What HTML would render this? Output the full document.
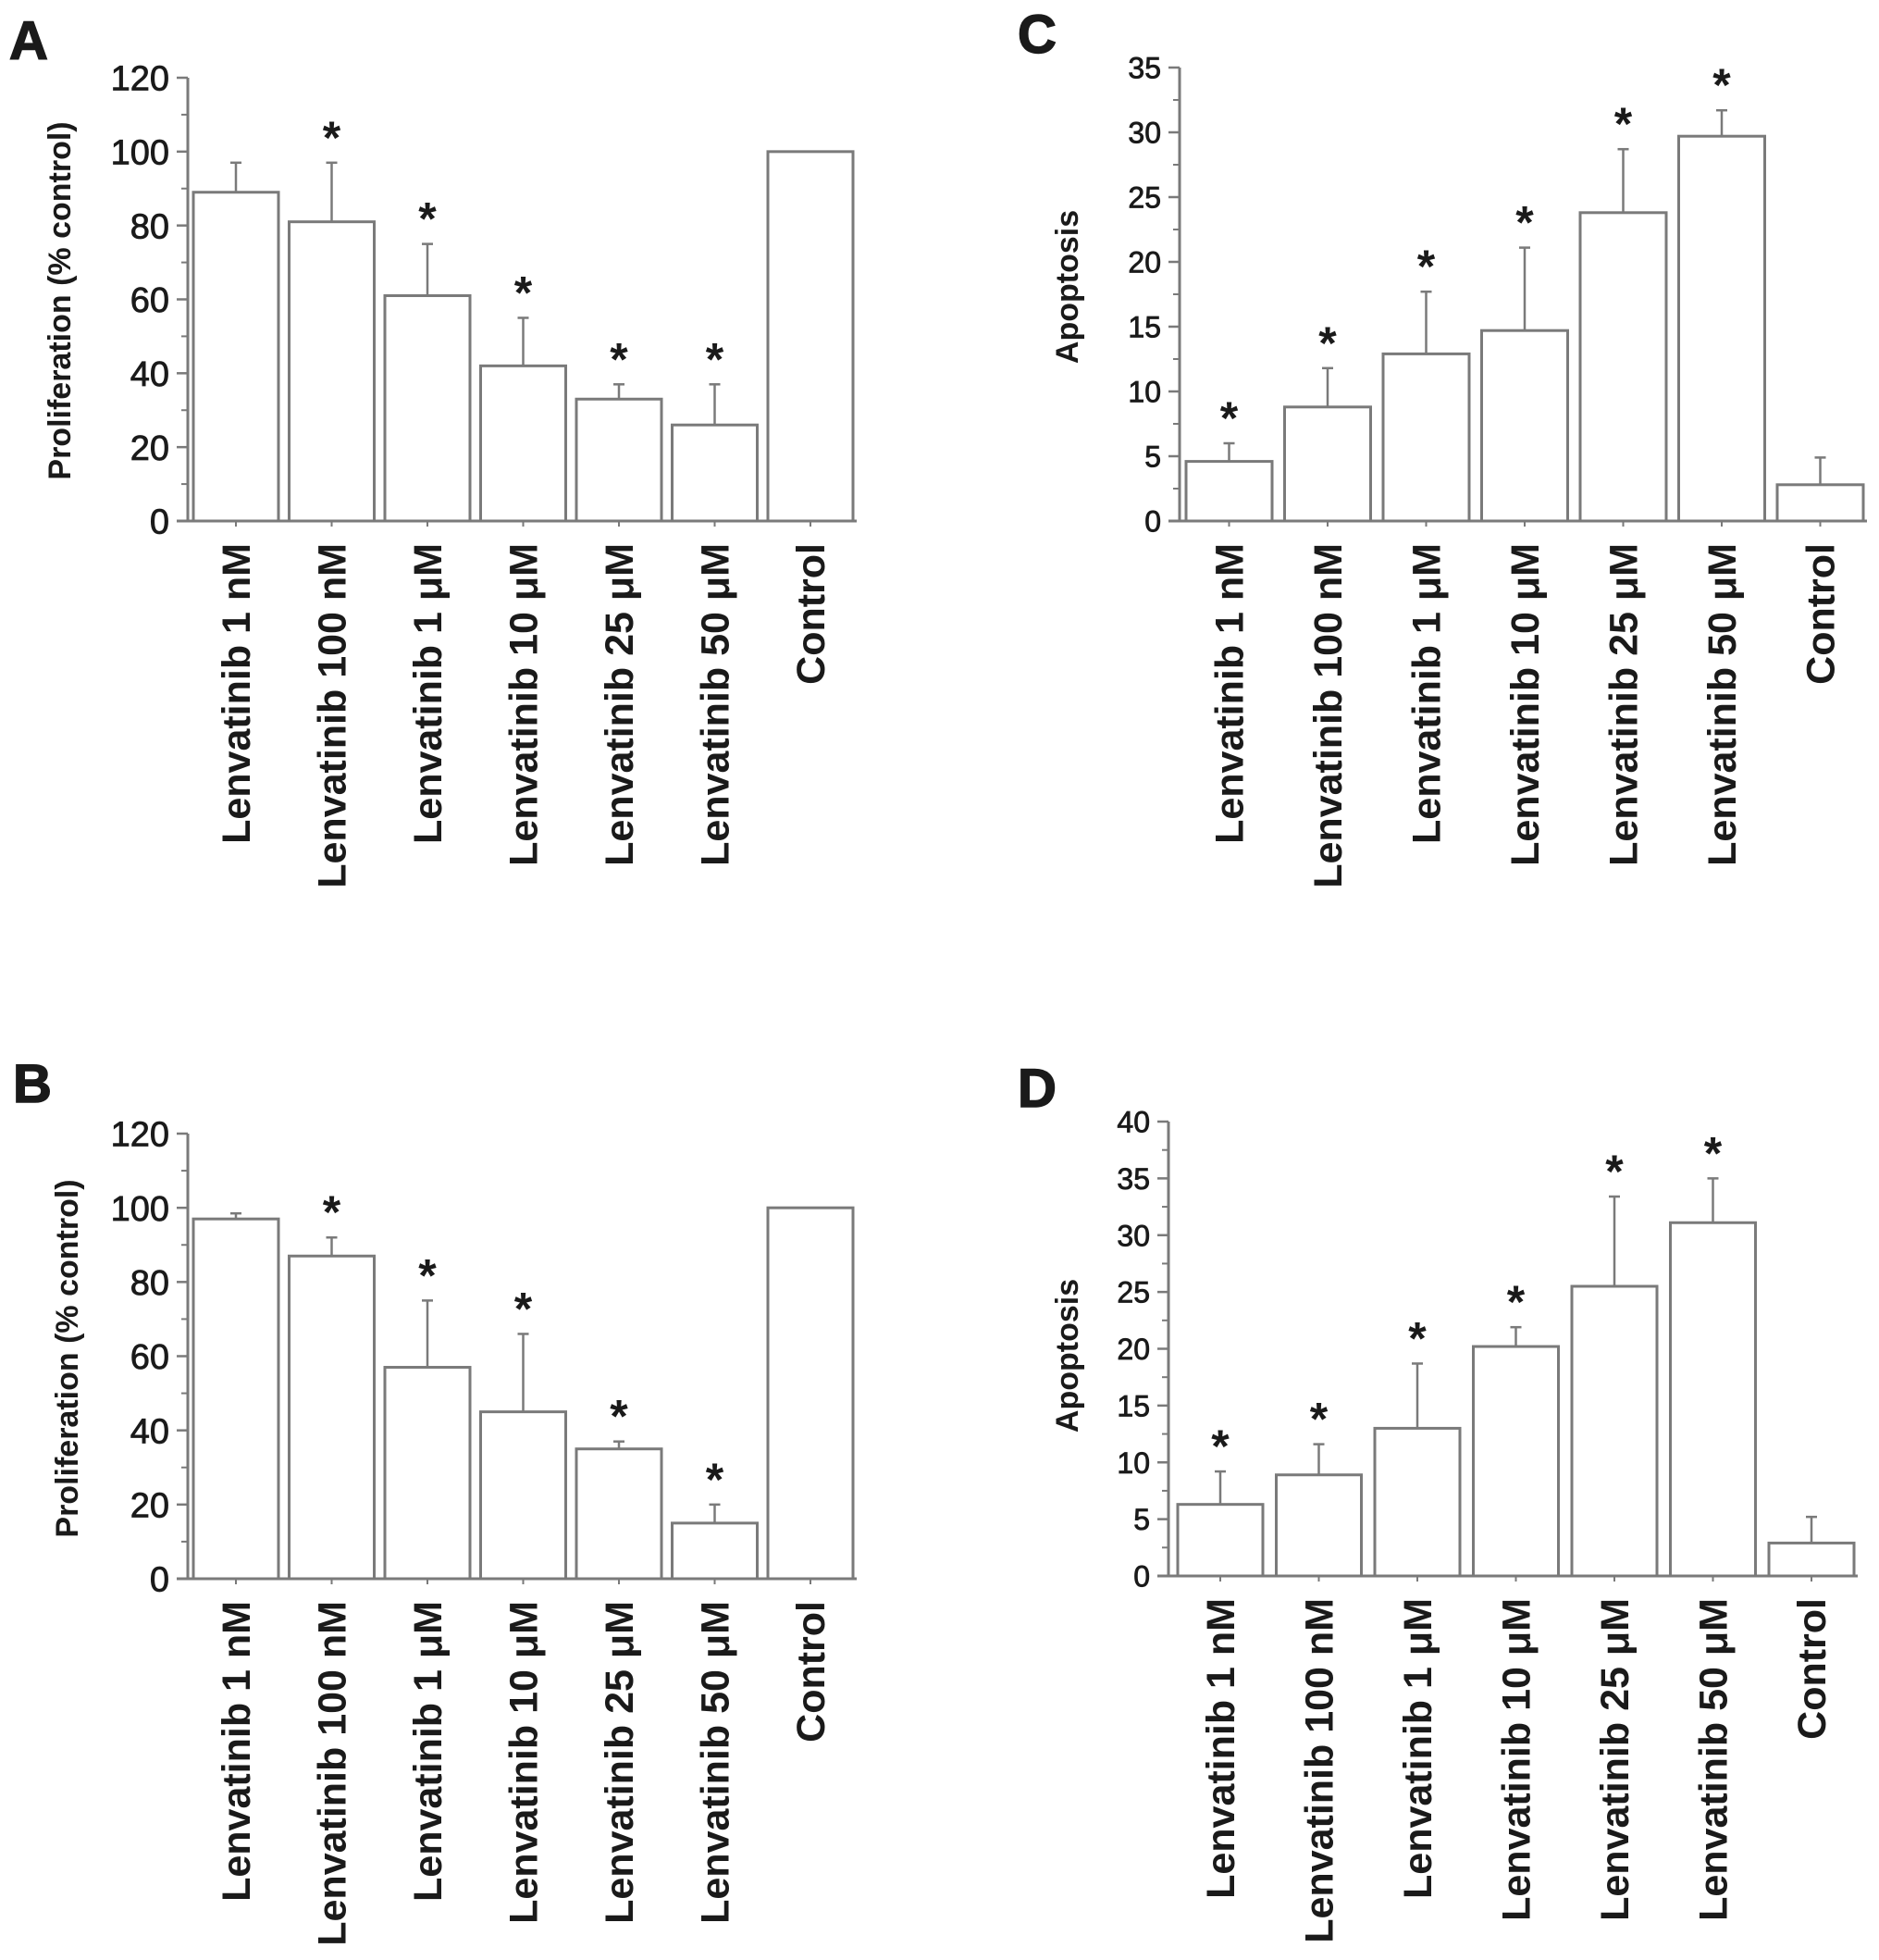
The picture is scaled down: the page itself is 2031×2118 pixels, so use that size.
<!DOCTYPE html>
<html><head><meta charset="utf-8"><style>
html,body{margin:0;padding:0;background:#fff;}
svg{display:block;}
text{font-family:"Liberation Sans",Arial,sans-serif;fill:#1a1a1a;}
</style></head><body>
<svg id="fig" width="2031" height="2118" viewBox="0 0 2031 2118" xmlns="http://www.w3.org/2000/svg"></svg>
<script>
const categories = ["Lenvatinib 1 nM","Lenvatinib 100 nM","Lenvatinib 1 μM","Lenvatinib 10 μM","Lenvatinib 25 μM","Lenvatinib 50 μM","Control"];
const valuesA = [89, 81, 61, 42, 33, 26, 100];
const errTopA = [97, 97, 75, 55, 37, 37, null];
const starsA = [false, true, true, true, true, true, false];
const ticksA = [0, 20, 40, 60, 80, 100, 120];
const valuesB = [97, 87, 57, 45, 35, 15, 100];
const errTopB = [98.5, 92, 75, 66, 37, 20, null];
const starsB = [false, true, true, true, true, true, false];
const ticksB = [0, 20, 40, 60, 80, 100, 120];
const valuesC = [4.6, 8.8, 12.9, 14.7, 23.8, 29.7, 2.8];
const errTopC = [6, 11.8, 17.7, 21.1, 28.7, 31.7, 4.9];
const starsC = [true, true, true, true, true, true, false];
const ticksC = [0, 5, 10, 15, 20, 25, 30, 35];
const valuesD = [6.3, 8.9, 13, 20.2, 25.5, 31.1, 2.9];
const errTopD = [9.2, 11.6, 18.7, 21.9, 33.4, 35, 5.2];
const starsD = [true, true, true, true, true, true, false];
const ticksD = [0, 5, 10, 15, 20, 25, 30, 35, 40];

const NS = "http://www.w3.org/2000/svg";
const svg = document.getElementById("fig");
function mk(tag, attrs, parent) {
  const e = document.createElementNS(NS, tag);
  for (const k in attrs) e.setAttribute(k, attrs[k]);
  (parent || svg).appendChild(e);
  return e;
}
const GRAY = "#7a7a7a";

function panel(cfg) {
  const g = mk("g", {});
  
  
  const maxV = cfg.ticks[cfg.ticks.length - 1];
  const y = v => cfg.y0 - (v / maxV) * (cfg.y0 - cfg.yTop);
  const xStart = i => cfg.barX0 + i * cfg.pitch;

  const letter = mk("text", {x: cfg.letterX, y: cfg.letterY, "font-size": 58, "font-weight": "bold", stroke: "#1a1a1a", "stroke-width": 1.5}, g);
  letter.textContent = cfg.letter;
  
  

  const right = xStart(cfg.values.length - 1) + cfg.barW + 4;
  cfg.values.forEach((v, i) => {
    const x = xStart(i);
    const r = mk("rect", {x: x, y: y(v), width: cfg.barW, height: cfg.y0 - y(v), fill: "#fff", stroke: GRAY, "stroke-width": 3}, g);
    
    
    const cx = x + cfg.barW / 2;
    if (cfg.err[i] != null) {
      const l = mk("line", {x1: cx, x2: cx, y1: y(v), y2: y(cfg.err[i]), stroke: GRAY, "stroke-width": 2.5}, g);
      
      
      const c = mk("line", {x1: cx - 6, x2: cx + 6, y1: y(cfg.err[i]), y2: y(cfg.err[i]), stroke: GRAY, "stroke-width": 2.5}, g);
      
      
    }
    if (cfg.stars[i]) {
      const top = cfg.err[i] != null ? y(cfg.err[i]) : y(v);
      const s = mk("text", {x: cx, y: top - 10, "font-size": 50, "font-weight": "bold", "text-anchor": "middle"}, g);
      s.textContent = "*";
      
      
    }
    mk("line", {x1: cx, x2: cx, y1: cfg.y0, y2: cfg.y0 + 6, stroke: GRAY, "stroke-width": 2}, g);
    const t = mk("text", {x: 0, y: 0, "font-size": 43, "font-weight": "bold", "text-anchor": "end",
      transform: `translate(${cx + 15},${cfg.y0 + 24}) rotate(-90)`}, g);
    t.textContent = categories[i];
    
    
  });
  const ya = mk("line", {x1: cfg.axisX, x2: cfg.axisX, y1: cfg.yTop, y2: cfg.y0, stroke: GRAY, "stroke-width": 3}, g);
  
  
  const xa = mk("line", {x1: cfg.axisX - 12, x2: right, y1: cfg.y0, y2: cfg.y0, stroke: GRAY, "stroke-width": 3}, g);
  
  
  const step = cfg.ticks[1] - cfg.ticks[0];
  cfg.ticks.forEach((tv, k) => {
    mk("line", {x1: cfg.axisX - 12, x2: cfg.axisX, y1: y(tv), y2: y(tv), stroke: GRAY, "stroke-width": 2.5}, g);
    const lab = mk("text", {x: cfg.axisX - 20, y: y(tv) + cfg.tickSize * 0.36, "font-size": cfg.tickSize, "text-anchor": "end", stroke: "#1a1a1a", "stroke-width": 0.8}, g);
    lab.textContent = tv;
    
    
    if (k < cfg.ticks.length - 1) {
      const mv = tv + step / 2;
      mk("line", {x1: cfg.axisX - 7, x2: cfg.axisX, y1: y(mv), y2: y(mv), stroke: GRAY, "stroke-width": 2}, g);
    }
  });
  const yt = mk("text", {x: 0, y: 0, "font-size": cfg.titleSize, "font-weight": "bold", "text-anchor": "middle",
    transform: `translate(${cfg.titleX},${cfg.titleY}) rotate(-90)`}, g);
  yt.textContent = cfg.title;
  
  
}

panel({letter: "A", letterX: 10, letterY: 64, values: valuesA, err: errTopA, stars: starsA, ticks: ticksA,
  axisX: 203, y0: 563, yTop: 84, barX0: 209, pitch: 103.5, barW: 92, tickSize: 38,
  title: "Proliferation (% control)", titleSize: 34, titleX: 76, titleY: 325});
panel({letter: "B", letterX: 14, letterY: 1191, values: valuesB, err: errTopB, stars: starsB, ticks: ticksB,
  axisX: 203, y0: 1706, yTop: 1225, barX0: 209, pitch: 103.5, barW: 92, tickSize: 38,
  title: "Proliferation (% control)", titleSize: 34, titleX: 84, titleY: 1468});
panel({letter: "C", letterX: 1100, letterY: 57, values: valuesC, err: errTopC, stars: starsC, ticks: ticksC,
  axisX: 1275, y0: 563, yTop: 73, barX0: 1282, pitch: 106.5, barW: 93, tickSize: 32,
  title: "Apoptosis", titleSize: 34, titleX: 1165, titleY: 310});
panel({letter: "D", letterX: 1100, letterY: 1196, values: valuesD, err: errTopD, stars: starsD, ticks: ticksD,
  axisX: 1263, y0: 1703, yTop: 1212, barX0: 1273, pitch: 106.5, barW: 92, tickSize: 32,
  title: "Apoptosis", titleSize: 34, titleX: 1165, titleY: 1465});
</script>
</body></html>
